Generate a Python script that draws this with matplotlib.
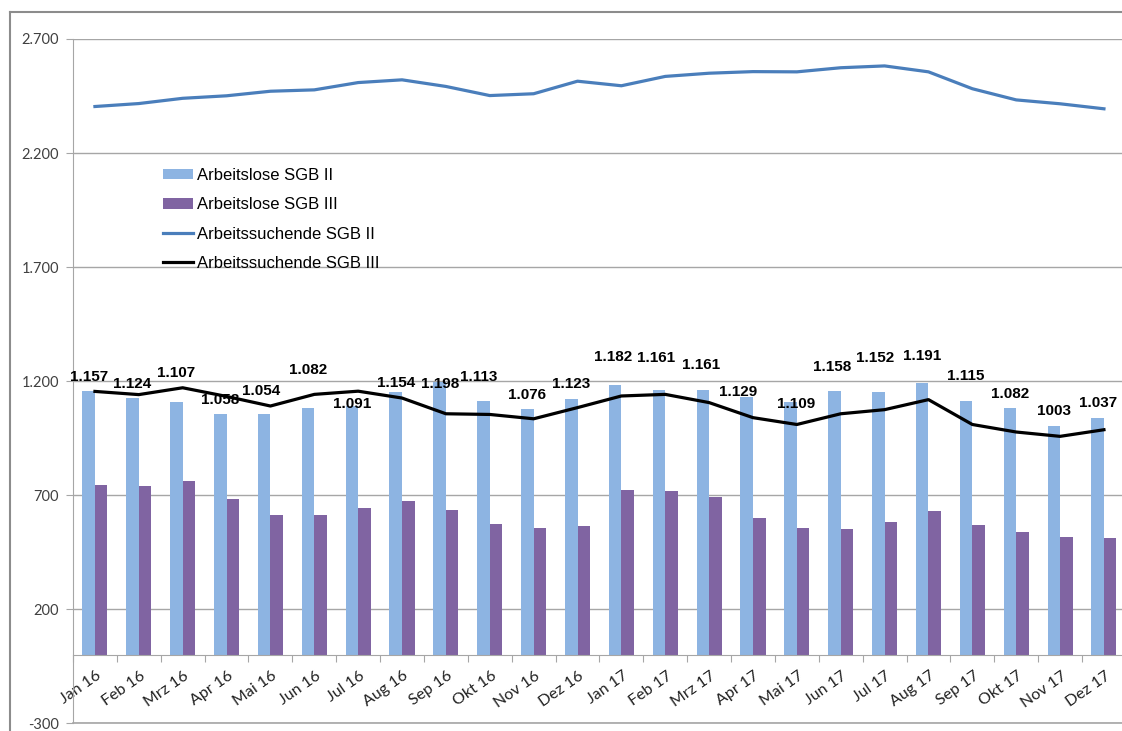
import matplotlib
matplotlib.use("Agg")
import matplotlib.pyplot as plt
import matplotlib.transforms as mtransforms
from matplotlib.lines import Line2D
import numpy as np

# --- data -------------------------------------------------------------
months = ["Jan 16", "Feb 16", "Mrz 16", "Apr 16", "Mai 16", "Jun 16",
          "Jul 16", "Aug 16", "Sep 16", "Okt 16", "Nov 16", "Dez 16",
          "Jan 17", "Feb 17", "Mrz 17", "Apr 17", "Mai 17", "Jun 17",
          "Jul 17", "Aug 17", "Sep 17", "Okt 17", "Nov 17", "Dez 17"]

arbeitslose_sgb2 = [1157, 1124, 1107, 1058, 1054, 1082, 1091, 1154, 1198, 1113,
                    1076, 1123, 1182, 1161, 1161, 1129, 1109, 1158, 1152, 1191,
                    1115, 1082, 1003, 1037]

arbeitslose_sgb3 = [746, 739, 762, 685, 615, 615, 642, 674, 637, 572,
                    558, 565, 724, 720, 692, 600, 555, 552, 584, 629,
                    568, 539, 515, 512]

arbeitssuchende_sgb2 = [2404, 2417, 2440, 2451, 2471, 2477, 2509, 2521, 2492, 2452,
                        2460, 2515, 2495, 2536, 2550, 2557, 2556, 2574, 2582, 2556,
                        2482, 2433, 2416, 2394]

arbeitssuchende_sgb3 = [1155, 1141, 1171, 1133, 1091, 1142, 1156, 1126, 1057, 1054,
                        1035, 1084, 1135, 1142, 1106, 1040, 1010, 1057, 1075, 1119,
                        1010, 977, 958, 987]

y_ticks = [-300, 200, 700, 1200, 1700, 2200, 2700]

# label placement (pixel offsets of each value label from its bar top)
label_dx = [0, 0, 0, 0, -3, 0, 0, 0, 0, -5, 0, 0,
            -2, -3, -2, -9, 6, -2, -3, 0, 0, 0, 0, 0]
label_dy = [14, 14, 29, 14, 23, 38, 2, 9, -2, 24, 14, 15,
            28, 32, 25, 5, -2, 24, 34, 27, 25, 14, 15, 15]
# the November 2017 label is printed without thousands separator
no_separator = {22}

# --- colours ----------------------------------------------------------
c_bar2 = "#8DB4E2"
c_bar3 = "#8064A2"
c_line2 = "#4A7EBB"
c_line3 = "#000000"
c_grid = "#A6A6A6"


def de_format(v, i):
    if i in no_separator:
        return str(v)
    return f"{v:,}".replace(",", ".")


W, H = 1122, 731
fig = plt.figure(figsize=(W / 100, H / 100), dpi=100)

left_px, right_px = 73, 73 + 24 * 43.87
top_px, bottom_px = 39, 723.3
ax = fig.add_axes([left_px / W, 1 - bottom_px / H,
                   (right_px - left_px) / W, (bottom_px - top_px) / H])

x = np.arange(len(months))
bw = 1 / 3.5

b2 = ax.bar(x - bw / 2, arbeitslose_sgb2, width=bw, color=c_bar2,
            label="Arbeitslose SGB II", zorder=2)
b3 = ax.bar(x + bw / 2, arbeitslose_sgb3, width=bw, color=c_bar3,
            label="Arbeitslose SGB III", zorder=2)
l2, = ax.plot(x, arbeitssuchende_sgb2, color=c_line2, lw=2.3,
              label="Arbeitssuchende SGB II", zorder=3, solid_joinstyle="round")
l3, = ax.plot(x, arbeitssuchende_sgb3, color=c_line3, lw=2.3,
              label="Arbeitssuchende SGB III", zorder=3, solid_joinstyle="round")

for i, v in enumerate(arbeitslose_sgb2):
    ax.annotate(de_format(v, i), xy=(x[i] - bw / 2, v),
                xytext=(label_dx[i], label_dy[i]), textcoords="offset pixels",
                ha="center", va="center", fontsize=11, fontweight="bold",
                family="Liberation Sans", color="black", zorder=4)

# axes / scales
ax.set_xlim(-0.5, len(months) - 0.5)
ax.set_ylim(-300, 2700)
ax.set_yticks(y_ticks)
ax.set_yticklabels([de_format(v, -1) for v in y_ticks],
                   family="Lato", fontsize=10.5, color="#404040")
ax.yaxis.grid(True, color=c_grid, lw=1)
ax.axhline(-300, color=c_grid, lw=1.2, clip_on=False, zorder=1)
ax.set_axisbelow(True)

for s in ("top", "right"):
    ax.spines[s].set_visible(False)
ax.spines["left"].set_color(c_grid)
ax.spines["bottom"].set_color(c_grid)
ax.spines["bottom"].set_position(("data", 0))
ax.tick_params(axis="y", length=5, color=c_grid, pad=5)

ax.set_xticks(np.arange(-0.5, len(months), 1.0))
ax.set_xticklabels([])
ax.tick_params(axis="x", which="major", length=5, color=c_grid, direction="out")
ax.set_xticks(x, minor=True)
ax.set_xticklabels(months, minor=True, family="Lato", fontsize=11.5, color="#222222")
ax.tick_params(axis="x", which="minor", length=0, pad=10)
shift = mtransforms.ScaledTranslation(1 / 100, 0, fig.dpi_scale_trans)
for lbl in ax.get_xticklabels(minor=True):
    lbl.set_rotation(35)
    lbl.set_ha("right")
    lbl.set_va("top")
    lbl.set_rotation_mode("anchor")
    lbl.set_transform(lbl.get_transform() + shift)

leg = ax.legend(handles=[b2, b3, l2, l3],
                loc="upper left", bbox_to_anchor=(163 / W, 1 - 168 / H),
                bbox_transform=fig.transFigure, frameon=False,
                prop={"family": "Liberation Sans", "size": 12},
                borderpad=0, borderaxespad=0, handlelength=1.8,
                handletextpad=0.25, labelspacing=0.86, handleheight=0.6)

# outer chart frame
frame_kw = dict(color="#8C8C8C", lw=1.5, transform=None)
fig.add_artist(Line2D([10, W], [H - 12, H - 12], **frame_kw))
fig.add_artist(Line2D([10, 10], [0, H - 12], **frame_kw))

fig.savefig("out.png", dpi=100)
